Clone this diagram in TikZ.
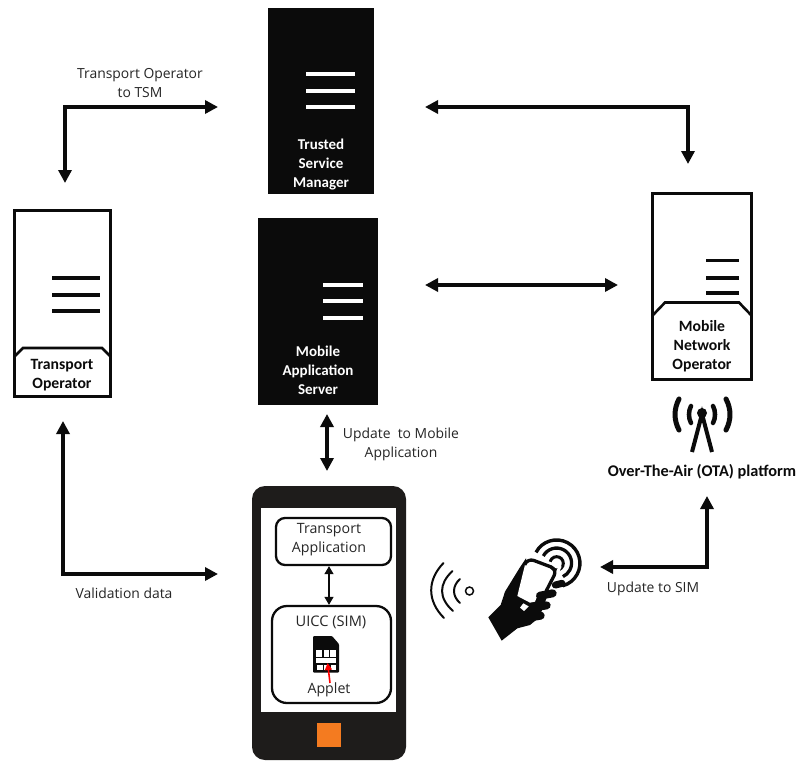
\documentclass[tikz,border=0pt]{standalone}
\usepackage{fontspec}
\setmainfont{Open Sans}
\newfontfamily\boldf{Carlito}
\usetikzlibrary{arrows.meta}
\definecolor{ink}{HTML}{0B0B0B}
\definecolor{phoneblack}{HTML}{1E1C1B}
\definecolor{orangebtn}{HTML}{F47B20}
\tikzset{
  x=1pt,y=-1pt,
  conn/.style={line width=3.8pt,draw=ink,{Triangle[length=13pt,width=13pt]}-{Triangle[length=13pt,width=13pt]}},
  blackbox/.style={fill=ink,draw=none,inner sep=0,rectangle},
  whitebox/.style={fill=white,draw=ink,line width=3pt,inner sep=0,rectangle},
  lblw/.style={text=white,font=\boldf\bfseries\fontsize{15}{19}\selectfont,align=center,inner sep=0},
  lblb/.style={text=ink,font=\boldf\bfseries\fontsize{15.7}{19}\selectfont,align=center,inner sep=0},
  plain/.style={text=black!85,font=\fontsize{13.9}{19}\selectfont,align=center,inner sep=0},
  phonetxt/.style={text=black!85,font=\fontsize{14.2}{19.5}\selectfont,align=center,inner sep=0},
  inb/.style={draw=ink,line width=2.3pt,rounded corners=9pt,fill=white,inner sep=0,rectangle},
  rack/.style={line width=3.1pt},
  wave/.style={draw=ink,line width=2pt,line cap=round},
}
\begin{document}
\begin{tikzpicture}
\useasboundingbox (0,0) rectangle (797,760);
\fill[white] (0,0) rectangle (797,760);

% Trusted Service Manager
\node[blackbox,minimum width=106pt,minimum height=186pt] (tsm) at (321,101) {};
\foreach \y in {74,91,107}{\draw[rack,white] (306,\y) -- (355,\y);}
\node[lblw] (tsmt) at (321,165) {Trusted\\Service\\Manager};

% Mobile Application Server
\node[blackbox,minimum width=120pt,minimum height=187pt] (mas) at (318,311.5) {};
\foreach \y in {285,301,318}{\draw[rack,white] (323,\y) -- (363,\y);}
\node[lblw] (mast) at (318,370.5) {Mobile\\Application\\Server};

% Transport Operator
\node[whitebox,minimum width=96pt,minimum height=186pt] (to) at (62.5,303) {};
\foreach \y in {278,295,311}{\draw[rack,ink] (52,\y) -- (100,\y);}
\draw[ink,line width=2.6pt] (15,356) -- (23,348) -- (102,348) -- (110,356);
\node[lblb] (tot) at (62,375.5) {Transport\\Operator};

% Mobile Network Operator
\node[whitebox,minimum width=99pt,minimum height=186pt] (mno) at (702,286) {};
\foreach \y in {260.5,278,293}{\draw[rack,ink] (706,\y) -- (739,\y);}
\draw[ink,line width=2.6pt] (653,315) -- (665,302.5) -- (739,302.5) -- (751,315);
\node[lblb] (mnot) at (702,346) {Mobile\\Network\\Operator};

% Antenna
\fill[ink] (702,413) circle (5);
\draw[ink,line width=4pt] (692,452) -- (702,414) -- (712,452);
\draw[ink,line width=4.5pt,line cap=round] (691,406) .. controls (688.3,411) and (688.3,418) .. (691,423);
\draw[ink,line width=4.5pt,line cap=round] (713,406) .. controls (715.7,411) and (715.7,418) .. (713,423);
\draw[ink,line width=5pt,line cap=round] (679,399) .. controls (673.7,409) and (673.7,420) .. (679,430);
\draw[ink,line width=5pt,line cap=round] (726,399) .. controls (731.3,409) and (731.3,420) .. (726,430);
\node[lblb,font=\boldf\bfseries\fontsize{16.3}{18}\selectfont] (ota) at (702,472) {Over-The-Air (OTA) platform};

% Phone
\draw[fill=phoneblack,draw=none,rounded corners=13pt] (252,486) rectangle (406,760);
\fill[white] (261,508) rectangle (396,712);
\fill[orangebtn] (317,723) rectangle (341,747);
\node[inb,minimum width=115pt,minimum height=47pt] (app) at (333.5,541.5) {};
\node[phonetxt] (appt) at (329,539.5) {Transport\\Application};
\node[inb,rounded corners=15pt,minimum width=119pt,minimum height=97pt] (uicc) at (331.5,654.5) {};
\node[phonetxt,font=\fontsize{14.6}{16}\selectfont] (uicct) at (331,622) {UICC (SIM)};
\node[phonetxt] (applet) at (329,690) {Applet};
\draw[ink,line width=1.2pt,{Triangle[length=8pt,width=9pt]}-{Triangle[length=8pt,width=9pt]}] (app.south -| applet.north) -- (uicc.north -| applet.north);

% SIM card
\fill[ink,rounded corners=1pt] (313,636) -- (332,636) -- (339,644) -- (339,672.5) -- (313,672.5) -- cycle;
\fill[white] (316,650) rectangle (322,656.5);
\fill[white] (323.5,650) rectangle (328.5,656.5);
\fill[white] (330,650) rectangle (336,656.5);
\fill[white] (316,658) rectangle (336,663);
\fill[white] (317,664.5) rectangle (322.5,670);
\fill[white] (324,664.5) rectangle (329,670);
\fill[white] (330.5,664.5) rectangle (336,670);
\draw[red,line width=1.6pt,-{Triangle[length=7pt,width=7pt]}] (330,683) -- (327.6,663);

% Waves
\draw[ink,line width=1.5pt] (469.5,591) circle (4);
\draw[wave] (460,579) .. controls (452,586) and (452,596) .. (460,603);
\draw[wave] (452.5,571) .. controls (438.5,584) and (438.5,598) .. (453,611);
\draw[wave] (443.5,563) .. controls (427,580) and (427,601) .. (444,618);

% Hand holding phone
\begin{scope}[shift={(480,530)},x=0.3333pt,y=-0.3333pt]
  \draw[ink,line width=3pt,fill=white] (230,100) circle (20);
  \fill[white] (230,100) circle (5);
  \draw[ink,line width=3.3pt] (190,78) arc[start angle=208,end angle=425,radius=45];
  \draw[ink,line width=3.4pt] (168,67) arc[start angle=208,end angle=435,radius=70];
  % white gap round the phone
  \draw[white,line width=3pt,line join=round] (130,74) -- (240,110) -- (205,185);
  % palm
  \fill[ink] (138,85) -- (118,115) -- (75,185) -- (62,225) -- (25,262) -- (65,332) -- (112,295) -- (150,285) -- (178,262) -- (205,190) -- (160,190) -- cycle;
  % screen
  \fill[white] (148,95) -- (222,125) -- (195,178) -- (175,190) -- (165,215) -- (150,218) -- (112,198) -- (136,100) -- cycle;
  % phone frame
  \draw[ink,line width=3.3pt,line join=round,rounded corners=7pt] (134,105) -- (142,84) -- (232,118) -- (198,184);
  % fingers
  \draw[ink,line width=8pt,line cap=round] (180,197) -- (218,190);
  \draw[ink,line width=8pt,line cap=round] (165,232) -- (200,226);
  \draw[ink,line width=8pt,line cap=round] (152,262) -- (182,257);
  \draw[ink,line width=7pt,line cap=round] (226,165) -- (246,160);
  % thumb knuckle
  \fill[ink] (118,207) -- (160,226) -- (155,240) -- (130,262) -- (100,240) -- cycle;
  \fill[white] (130,220) -- (146,229) -- (132,243) -- (120,233) -- cycle;
\end{scope}

% Connectors
\coordinate (a1) at (218,107); \coordinate (a2) at (65,107); \coordinate (a3) at (65,183);
\draw[conn] (a1) -- (a2) -- (a3);
\coordinate (b1) at (425,107); \coordinate (b2) at (688,107); \coordinate (b3) at (688,164);
\draw[conn] (b1) -- (b2) -- (b3);
\coordinate (c1) at (425,285); \coordinate (c2) at (618,285);
\draw[conn] (c1) -- (c2);
\coordinate (d1) at (327,414); \coordinate (d2) at (327,471);
\draw[conn] (d1) -- (d2);
\coordinate (e1) at (63,421); \coordinate (e2) at (63,574); \coordinate (e3) at (218,574);
\draw[conn] (e1) -- (e2) -- (e3);
\coordinate (f1) at (707,496); \coordinate (f2) at (707,567); \coordinate (f3) at (600,567);
\draw[conn] (f1) -- (f2) -- (f3);

% Labels
\node[plain] (l1) at (140,83) {Transport Operator\\to TSM};
\node[plain] (l2) at (401,444) {Update\ \ to Mobile\\Application};
\node[plain] (l3) at (124,593) {Validation data};
\node[plain] (l4) at (653,589) {Update to SIM};
\end{tikzpicture}
\end{document}
